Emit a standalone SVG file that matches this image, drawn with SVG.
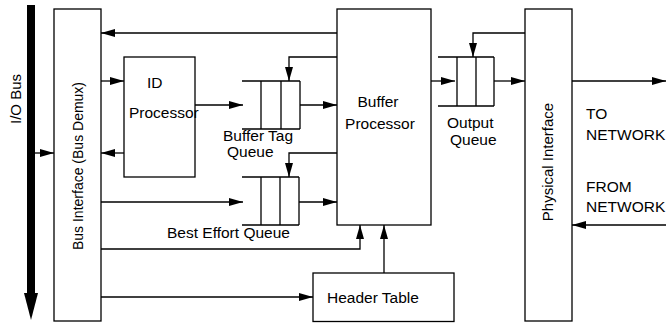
<svg xmlns="http://www.w3.org/2000/svg" width="666" height="323" viewBox="0 0 666 323">
<defs>
<style>
.box{fill:#fff;stroke:#000;stroke-width:1.3}
.q{fill:none;stroke:#000;stroke-width:1.3}
.c{fill:none;stroke:#000;stroke-width:1.3;marker-end:url(#ah)}
text{font-family:"Liberation Sans",Arial,Helvetica,sans-serif;font-size:15.5px;fill:#000}
.rot{font-size:15px}
</style>
<marker id="ah" markerUnits="userSpaceOnUse" markerWidth="14" markerHeight="8" refX="14" refY="4" orient="auto">
<path d="M0,0 L14,4 L0,8 z" fill="#000"/>
</marker>
</defs>
<rect width="666" height="323" fill="#fff"/>

<g id="io-bus">
<rect x="27" y="5" width="8" height="290" fill="#000"/>
<path d="M24,293 L38,293 L31,320 z" fill="#000"/>
<text class="rot" transform="translate(21,99) rotate(-90)" text-anchor="middle">I/O Bus</text>
</g>

<g id="bus-interface">
<rect class="box" x="54" y="9" width="47" height="312"/>
<text transform="translate(83,166) rotate(-90)" text-anchor="middle" style="font-size:14px">Bus Interface (Bus Demux)</text>
</g>

<g id="id-processor">
<rect class="box" x="124" y="57" width="71" height="120"/>
<text x="147" y="88">ID</text>
<text x="129" y="118">Processor</text>
</g>

<g id="buffer-tag-queue">
<path class="q" d="M242,81 H300 M242,129 H300 M261,81 V129 M281,81 V129 M300,81 V129"/>
<text x="223" y="141">Buffer Tag</text>
<text x="227" y="157">Queue</text>
</g>

<g id="best-effort-queue">
<path class="q" d="M242,177 H299 M242,225 H299 M261,177 V225 M280,177 V225 M299,177 V225"/>
<text x="167" y="238">Best Effort Queue</text>
</g>

<g id="buffer-processor">
<rect class="box" x="337" y="9" width="94" height="216"/>
<text x="378" y="107" text-anchor="middle">Buffer</text>
<text x="380" y="129" text-anchor="middle">Processor</text>
</g>

<g id="output-queue">
<path class="q" d="M438,57 H494 M438,106 H494 M457,57 V106 M476,57 V106 M494,57 V106"/>
<text x="447" y="128">Output</text>
<text x="450" y="145">Queue</text>
</g>

<g id="header-table">
<rect class="box" x="313" y="273" width="141" height="48.5"/>
<text x="327" y="303">Header Table</text>
</g>

<g id="physical-interface">
<rect class="box" x="525" y="9" width="47" height="312"/>
<text class="rot" transform="translate(553,162) rotate(-90)" text-anchor="middle">Physical Interface</text>
</g>

<g id="network-labels">
<text x="586" y="119">TO</text>
<text x="586" y="140">NETWORK</text>
<text x="586" y="192">FROM</text>
<text x="586" y="212">NETWORK</text>
</g>

<g id="connectors">
<path class="c" d="M35,153 H54"/>
<path class="c" d="M337,33 H101"/>
<path class="c" d="M101,81 H124"/>
<path class="c" d="M124,153 H101"/>
<path class="c" d="M195,105 H243"/>
<path class="c" d="M300,105 H337"/>
<path class="c" d="M337,57 H289 V81"/>
<path class="c" d="M337,153 H289 V177"/>
<path class="c" d="M101,202 H243"/>
<path class="c" d="M299,202 H337"/>
<path class="c" d="M101,249 H360 V225"/>
<path class="c" d="M101,297 H313"/>
<path class="c" d="M384,273 V225"/>
<path class="c" d="M431,81 H455"/>
<path class="c" d="M494,81 H525"/>
<path class="c" d="M525,33 H473 V57"/>
<path class="c" d="M572,81 H666"/>
<path class="c" d="M666,225 H572"/>
</g>
</svg>
